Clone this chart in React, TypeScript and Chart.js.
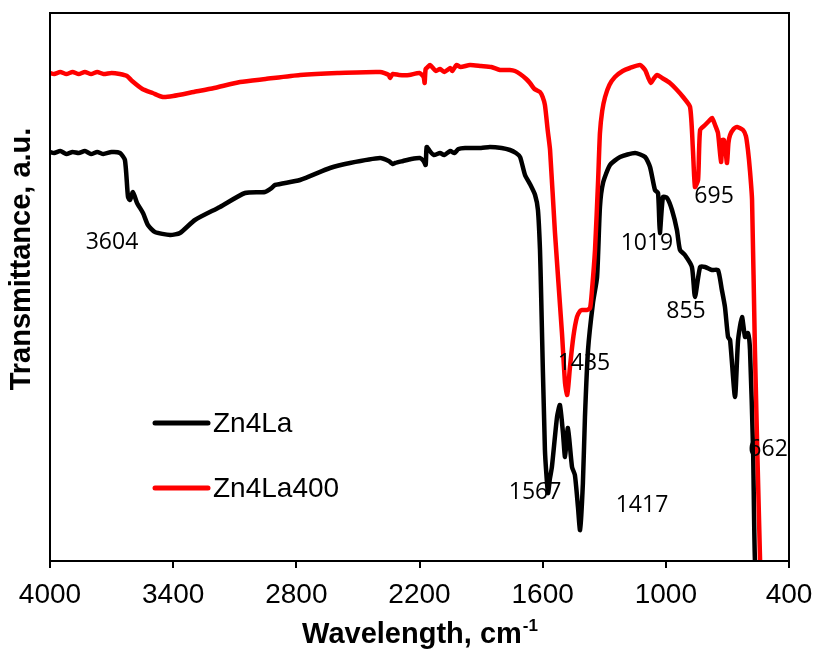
import React, { useEffect, useRef } from "react";
import { Chart, registerables } from "chart.js";

Chart.register(...registerables);

// Wavenumbers (cm-1) and transmittance (a.u.)
const blackWn = [4000, 3980, 3950, 3920, 3890, 3860, 3830, 3800, 3770, 3740, 3700, 3659, 3635, 3620, 3610, 3596, 3576, 3547, 3523, 3489, 3415, 3367, 3294, 3172, 3050, 2953, 2920, 2904, 2782, 2636, 2539, 2392, 2350, 2330, 2319, 2280, 2240, 2198, 2180, 2170, 2165, 2150, 2130, 2100, 2080, 2050, 2030, 2010, 1978, 1900, 1857, 1800, 1759, 1730, 1710, 1686, 1662, 1637, 1623, 1613, 1608, 1589, 1574, 1565, 1555, 1530, 1516, 1501, 1491, 1477, 1457, 1443, 1428, 1418, 1404, 1394, 1379, 1355, 1335, 1321, 1306, 1272, 1223, 1150, 1101, 1077, 1053, 1038, 1029, 1014, 994, 970, 946, 931, 907, 873, 858, 833, 809, 775, 746, 727, 712, 697, 687, 663, 648, 629, 614, 600, 590, 575, 566, 545];
const blackT = [409, 408, 410, 407, 409, 408, 410, 407, 409, 407, 409, 408, 401, 364, 361, 369, 358, 348, 336, 329, 326, 328, 341, 354, 368, 369, 373, 376, 381, 393, 398, 403, 400, 397, 398, 400, 402, 403, 400, 396, 414, 410, 406, 408, 406, 410, 408, 412, 413, 413, 414, 413, 411, 408, 404, 386, 377, 366, 351, 311, 271, 111, 68, 82, 94, 144, 156, 128, 104, 133, 94, 86, 54, 31, 78, 144, 211, 258, 284, 354, 378, 396, 404, 408, 404, 394, 371, 368, 328, 364, 363, 351, 331, 311, 306, 294, 264, 294, 294, 291, 291, 271, 254, 224, 221, 164, 221, 244, 224, 228, 211, 111, 1, -60];

const redWn = [4000, 3980, 3950, 3920, 3890, 3860, 3830, 3800, 3770, 3740, 3700, 3660, 3625, 3600, 3550, 3500, 3450, 3400, 3300, 3200, 3074, 2950, 2782, 2600, 2392, 2350, 2344, 2330, 2300, 2250, 2200, 2180, 2175, 2170, 2160, 2149, 2120, 2100, 2080, 2050, 2040, 2020, 2000, 1954, 1900, 1850, 1808, 1760, 1735, 1710, 1680, 1662, 1640, 1613, 1600, 1589, 1575, 1564, 1540, 1506, 1491, 1481, 1475, 1467, 1450, 1433, 1418, 1408, 1385, 1369, 1360, 1345, 1330, 1321, 1310, 1296, 1275, 1248, 1210, 1175, 1126, 1101, 1085, 1072, 1060, 1043, 1010, 980, 950, 916, 882, 868, 858, 843, 833, 809, 790, 775, 760, 746, 731, 724, 717, 710, 702, 695, 687, 670, 653, 624, 610, 600, 590, 580, 566, 541, 530];
const redT = [488, 487, 489, 487, 489, 487, 489, 487, 489, 487, 488, 487, 485, 480, 472, 468, 464, 465, 469, 473, 479, 482, 486, 488, 489, 486, 483, 487, 486, 486, 488, 484, 478, 492, 494, 496, 490, 492, 489, 493, 490, 496, 494, 496, 495, 494, 491, 491, 490, 487, 482, 478, 472, 469, 464, 456, 430, 411, 328, 228, 178, 166, 175, 194, 225, 244, 250, 251, 251, 253, 270, 311, 380, 428, 450, 464, 476, 484, 490, 493, 496, 491, 483, 478, 482, 486, 482, 478, 472, 464, 454, 411, 374, 381, 431, 436, 440, 443, 436, 428, 399, 421, 421, 412, 398, 418, 426, 432, 434, 431, 425, 411, 390, 361, 211, 1, -50];

const seriesNames = ["Zn4La", "Zn4La400"];
const seriesColors = ["#000000", "#FF0000"];

const peakLabels = ["3604", "1435", "1567", "1417", "1019", "855", "695", "662"];
const peakLabelWn = [3698, 1399, 1637, 1116, 1092, 902, 765, 502];
const peakLabelT = [319, 198, 69, 56, 318, 250, 365, 112];

const xTicks = [4000, 3400, 2800, 2200, 1600, 1000, 400];

const toPoints = (xs: number[], ys: number[]) => xs.map((x, i) => ({ x, y: ys[i] }));

export default function App() {
  const ref = useRef<HTMLCanvasElement | null>(null);

  useEffect(() => {
    if (!ref.current) return;

    const framePlugin = {
      id: "frameAndText",
      afterDatasetsDraw(chart: any) {
        const { ctx, chartArea, scales } = chart;
        const { left, right, top, bottom } = chartArea;
        ctx.save();
        // frame
        ctx.strokeStyle = "#000";
        ctx.lineWidth = 2;
        ctx.strokeRect(left, top, right - left, bottom - top);

        // peak labels
        ctx.fillStyle = "#000";
        ctx.font = "23px 'Open Sans'";
        ctx.textAlign = "center";
        ctx.textBaseline = "middle";
        peakLabels.forEach((t, i) => {
          ctx.fillText(t, scales.x.getPixelForValue(peakLabelWn[i]), scales.y.getPixelForValue(peakLabelT[i]));
        });

        // legend
        const lx0 = left + 105;
        const lx1 = left + 158;
        const ly = [top + 410, top + 475];
        ctx.font = "28px 'Liberation Sans', Arial, sans-serif";
        ctx.textAlign = "left";
        seriesNames.forEach((n, i) => {
          ctx.strokeStyle = seriesColors[i];
          ctx.lineWidth = 5;
          ctx.lineCap = "round";
          ctx.beginPath();
          ctx.moveTo(lx0, ly[i]);
          ctx.lineTo(lx1, ly[i]);
          ctx.stroke();
          ctx.fillStyle = "#000";
          ctx.fillText(n, lx1 + 5, ly[i] + 1);
        });

        // y title
        ctx.font = "bold 29px 'Liberation Sans', Arial, sans-serif";
        ctx.textAlign = "center";
        ctx.textBaseline = "middle";
        ctx.save();
        ctx.translate(22, (top + bottom) / 2 - 28);
        ctx.rotate(-Math.PI / 2);
        ctx.fillText("Transmittance, a.u.", 0, 0);
        ctx.restore();

        // x title with superscript
        const main = "Wavelength, cm";
        const sup = "-1";
        ctx.font = "bold 29px 'Liberation Sans', Arial, sans-serif";
        const w1 = ctx.measureText(main).width;
        ctx.font = "bold 17px 'Liberation Sans', Arial, sans-serif";
        const w2 = ctx.measureText(sup).width;
        const cx = (left + right) / 2;
        const startX = cx - (w1 + w2) / 2;
        const baseY = 643;
        ctx.textAlign = "left";
        ctx.textBaseline = "alphabetic";
        ctx.font = "bold 29px 'Liberation Sans', Arial, sans-serif";
        ctx.fillText(main, startX, baseY);
        ctx.font = "bold 17px 'Liberation Sans', Arial, sans-serif";
        ctx.fillText(sup, startX + w1 + 1, baseY - 12);
        ctx.restore();
      },
    };

    const chart = new Chart(ref.current, {
      type: "line",
      data: {
        datasets: [
          {
            label: seriesNames[0],
            data: toPoints(blackWn, blackT),
            borderColor: seriesColors[0],
            borderWidth: 4.5,
            pointRadius: 0,
            tension: 0.2,
            clip: 0,
            order: 2,
          },
          {
            label: seriesNames[1],
            data: toPoints(redWn, redT),
            borderColor: seriesColors[1],
            borderWidth: 4.5,
            pointRadius: 0,
            tension: 0.2,
            clip: 0,
            order: 1,
          },
        ],
      },
      options: {
        animation: false,
        responsive: false,
        layout: { padding: { left: 50, top: 13, right: 25, bottom: 0 } },
        plugins: { legend: { display: false }, tooltip: { enabled: false } },
        scales: {
          x: {
            type: "linear",
            reverse: true,
            min: 400,
            max: 4000,
            afterBuildTicks: (scale: any) => {
              scale.ticks = xTicks.map((v) => ({ value: v }));
            },
            afterFit: (scale: any) => {
              scale.height = 90;
              scale.paddingLeft = 0;
              scale.paddingRight = 0;
            },
            grid: { drawOnChartArea: false, drawTicks: true, tickLength: 7, color: "#000", lineWidth: 2 },
            border: { display: true, color: "#000", width: 2 },
            ticks: {
              color: "#000",
              font: { family: "'Liberation Sans', Arial, sans-serif", size: 28 },
              padding: 10,
              maxRotation: 0,
              autoSkip: false,
              callback: (v: any) => String(v),
            },
          },
          y: {
            display: false,
            min: 0,
            max: 548,
          },
        },
      },
      plugins: [framePlugin],
    } as any);

    return () => chart.destroy();
  }, []);

  return (
    <div style={{ position: "absolute", left: 0, top: 0, width: 814, height: 651, background: "#fff" }}>
      <canvas ref={ref} width={814} height={651} />
    </div>
  );
}
